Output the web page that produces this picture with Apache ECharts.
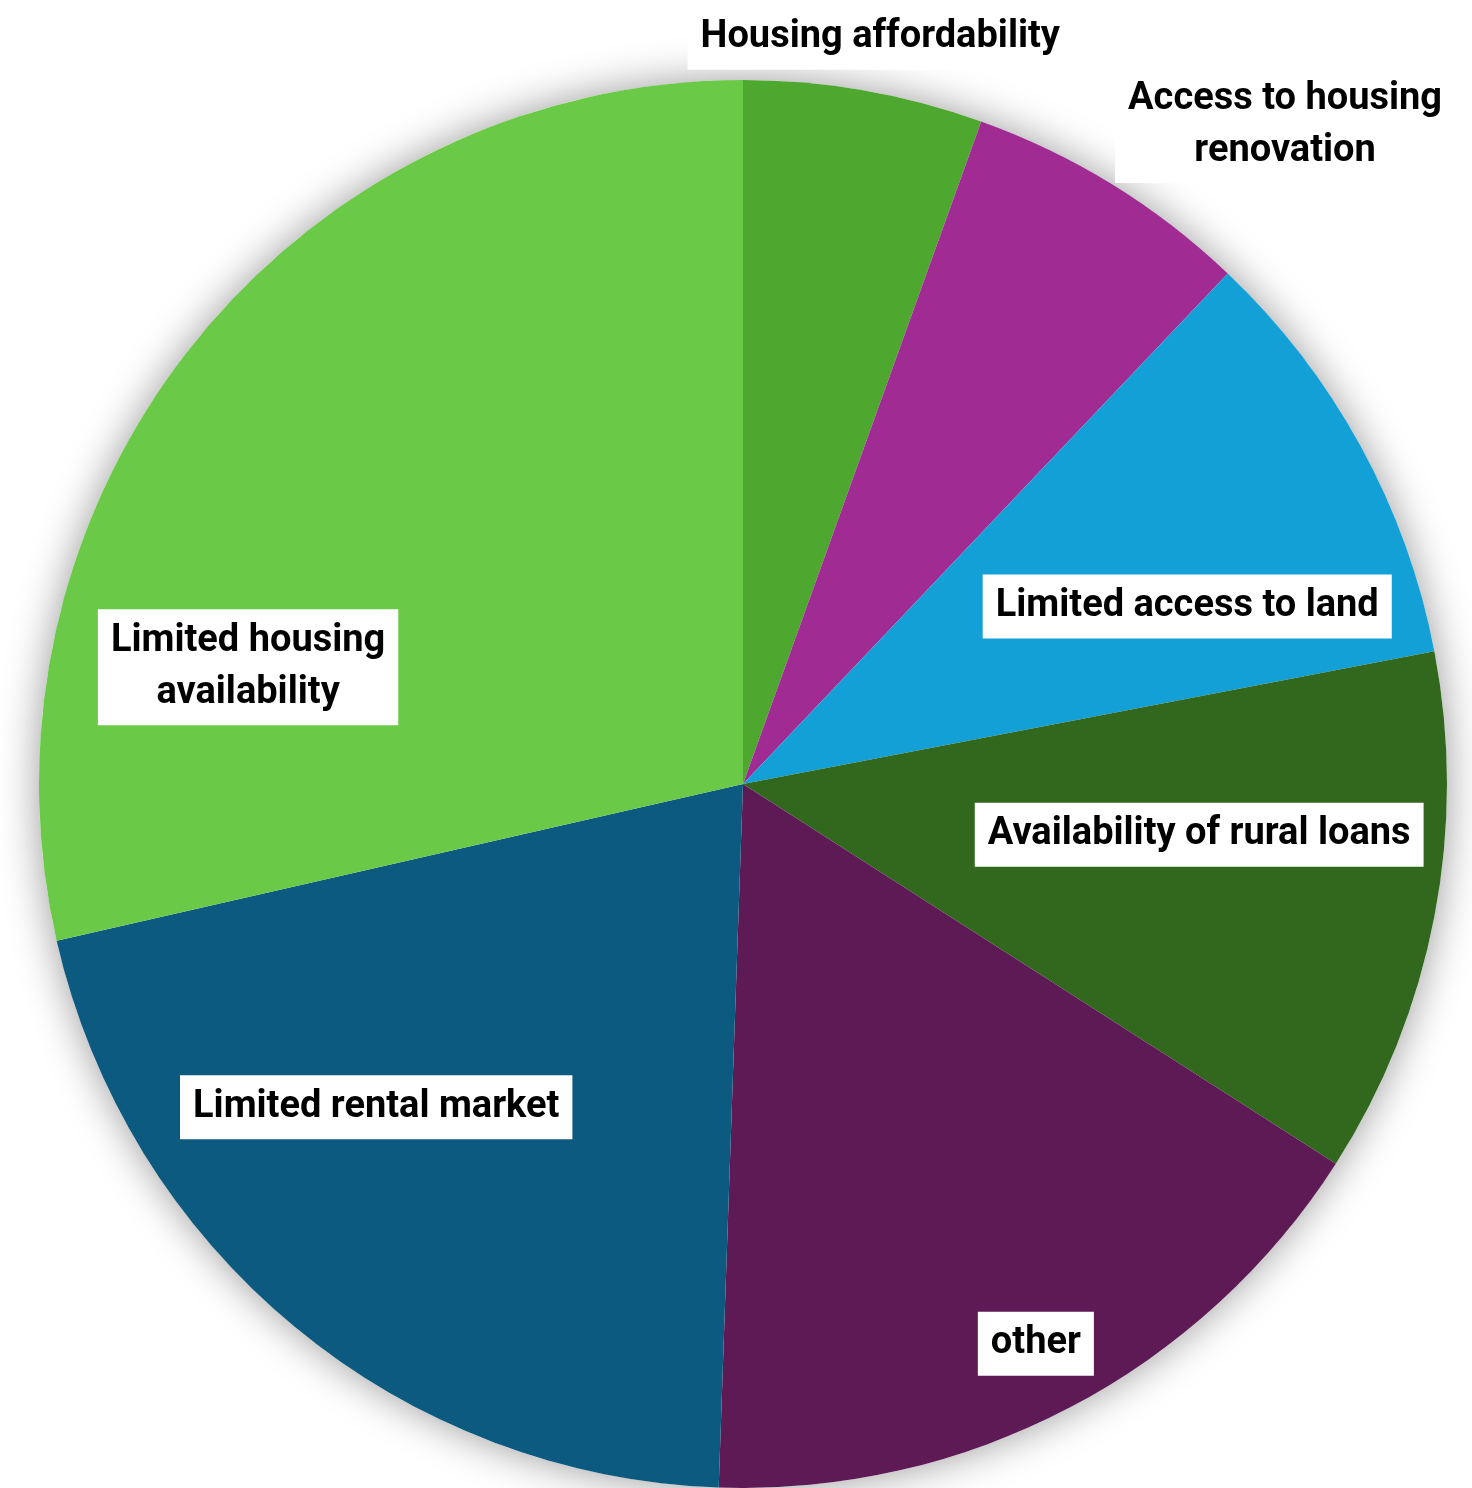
<!DOCTYPE html>
<html>
<head>
<meta charset="utf-8">
<title>Housing challenges</title>
<script src="https://cdn.jsdelivr.net/npm/echarts@6/dist/echarts.min.js"></script>
<style>
  html, body { margin: 0; padding: 0; background: #ffffff; }
  #chart { width: 1472px; height: 1488px; }
</style>
</head>
<body>
<div id="chart"></div>
<script>
// Responses per housing issue
const categories = [
  'Housing affordability',
  'Access to housing\nrenovation',
  'Limited access to land',
  'Availability of rural loans',
  'other',
  'Limited rental market',
  'Limited housing\navailability'
];
const counts = [5, 6, 9, 11, 15, 19, 26];
const colors = ['#4EA72E', '#A02B93', '#12A0D7', '#31681E', '#5E1A55', '#0D5A80', '#6AC947'];

// Pie geometry (px) and label anchors as fractions of the radius from the centre
const CENTER = [743, 784];
const RADIUS = 704;
const labelAnchors = [
  [0.195, -1.060],
  [0.770, -0.936],
  [0.631, -0.252],
  [0.648, 0.072],
  [0.416, 0.795],
  [-0.521, 0.459],
  [-0.703, -0.166]
];

const chart = echarts.init(document.getElementById('chart'), null, { renderer: 'canvas' });

const labelStyle = {
  show: true,
  position: 'inside',
  formatter: '{b}',
  fontFamily: 'Roboto, "Open Sans", sans-serif',
  fontWeight: 'bold',
  fontSize: 38,
  lineHeight: 52,
  color: '#000000',
  backgroundColor: '#ffffff',
  padding: [6, 13],
  align: 'center'
};

chart.setOption({
  backgroundColor: '#ffffff',
  animation: false,
  series: [
    {
      // soft shadow disc behind the slices
      type: 'pie',
      silent: true,
      z: 1,
      center: [CENTER[0], CENTER[1]],
      radius: [0, RADIUS],
      label: { show: false },
      labelLine: { show: false },
      itemStyle: {
        color: '#ffffff',
        shadowBlur: 42,
        shadowColor: 'rgba(0, 0, 0, 0.4)',
        shadowOffsetX: 0,
        shadowOffsetY: 0
      },
      data: [{ value: 1, name: '' }]
    },
    {
      type: 'pie',
      z: 2,
      center: [CENTER[0], CENTER[1]],
      radius: [0, RADIUS],
      startAngle: 90,
      clockwise: true,
      avoidLabelOverlap: false,
      itemStyle: { borderWidth: 0 },
      label: labelStyle,
      labelLine: { show: false },
      emphasis: { disabled: true },
      labelLayout: function (params) {
        const a = labelAnchors[params.dataIndex];
        return {
          x: CENTER[0] + a[0] * RADIUS,
          y: CENTER[1] + a[1] * RADIUS,
          align: 'center',
          verticalAlign: 'middle'
        };
      },
      data: categories.map((name, i) => ({
        name: name,
        value: counts[i],
        itemStyle: { color: colors[i] }
      }))
    }
  ]
});
</script>
</body>
</html>
